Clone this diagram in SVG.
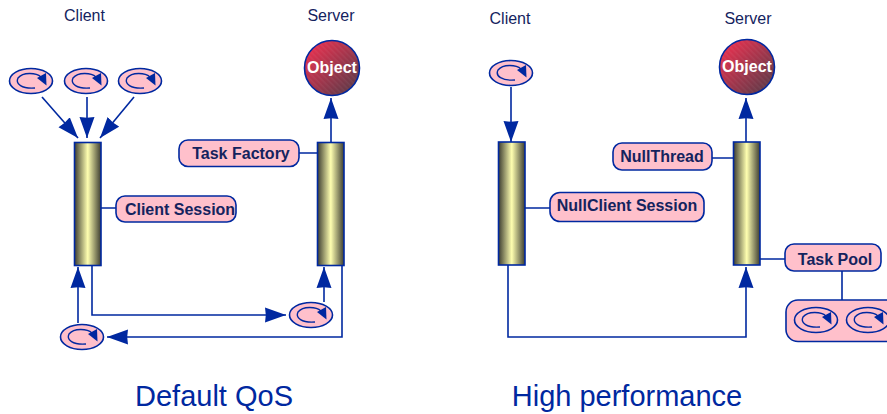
<svg xmlns="http://www.w3.org/2000/svg" width="887" height="414" viewBox="0 0 887 414">
<style>
text{font-family:"Liberation Sans",Arial,sans-serif;fill:#14235e}
.h{font-size:16px;text-anchor:middle}
.t{font-size:29px;text-anchor:middle;fill:#0028a0}
.b{font-size:16px;font-weight:bold;text-anchor:middle}
.box{fill:#ffc0cb;stroke:#0028a0;stroke-width:1.6}
.bar{fill:url(#cyl);stroke:#0028a0;stroke-width:1.6}
.c{fill:none;stroke:#0028a0;stroke-width:1.6}
.a{fill:none;stroke:#0028a0;stroke-width:1.6;marker-end:url(#ah)}
.o{fill:url(#sph);stroke:#0028a0;stroke-width:1.6}
.os{fill:url(#hatch)}
.ot{font-size:16px;font-weight:bold;text-anchor:middle;fill:#fff}
</style>
<defs>
<linearGradient id="cyl"><stop offset="0" stop-color="#3c3c30"/><stop offset=".5" stop-color="#ffffb0"/><stop offset="1" stop-color="#3c3c30"/></linearGradient>
<linearGradient id="sph" x1="0.100" y1="0.100" x2="0.900" y2="0.900"><stop offset="0" stop-color="#e8304f"/><stop offset="1" stop-color="#5f3a48"/></linearGradient>
<pattern id="hatch" width="4" height="4" patternUnits="userSpaceOnUse" patternTransform="rotate(45)"><rect width="4" height="1.500" fill="#fff" opacity=".05"/></pattern>
<marker id="ah" markerUnits="userSpaceOnUse" markerWidth="24" markerHeight="18" refX="21" refY="8" orient="auto"><path d="M0 0.500L21 8L0 15.500L0.800 8Z" fill="#0028a0"/></marker>
<g id="th"><ellipse rx="21.500" ry="12.500" class="box"/><path d="M10-4C5-8.500-8-9-13-3C-16 3-9 8 4 7" fill="none" stroke="#0028a0" stroke-width="1.400"/><path d="M15-8L15.500 4.500L6-3Z" fill="#0028a0"/></g>
</defs>
<g id="connectors">
<path class="a" d="M42 97L78 138"/>
<path class="a" d="M87 97V138"/>
<path class="a" d="M134 97L100 138"/>
<path class="c" d="M299 153H318M101 208H116"/>
<path class="a" d="M331 142V98"/>
<path class="a" d="M92 266V315H286"/>
<path class="a" d="M324 302V267"/>
<path class="a" d="M342 266V337H107"/>
<path class="a" d="M78 323V267"/>
<path class="a" d="M511 87V142"/>
<path class="c" d="M525 208H550M712 158H733M760 259H785M842 271V300"/>
<path class="a" d="M746 142V98"/>
<path class="a" d="M508 265V337H746V267"/>
</g>
<g id="labels">
<text class="h" x="84.500" y="21">Client</text>
<text class="h" x="331" y="21">Server</text>
<text class="h" x="510" y="24">Client</text>
<text class="h" x="748" y="24">Server</text>
<text class="t" x="214" y="406">Default QoS</text>
<text class="t" x="627" y="406">High performance</text>
</g>
<g id="client-threads-a"><use href="#th" x="31" y="81"/><use href="#th" x="86" y="81"/><use href="#th" x="140" y="81"/></g>
<g id="client-bar-a"><rect class="bar" x="74.500" y="142.500" width="26.500" height="123"/></g>
<g id="server-bar-a"><rect class="bar" x="317.500" y="142.500" width="26.500" height="123"/></g>
<g id="object-a"><circle class="o" cx="332" cy="68" r="27.500"/><circle class="os" cx="332" cy="68" r="26.500"/><text class="ot" x="332" y="73">Object</text></g>
<g id="task-factory"><rect class="box" x="179" y="140" width="120" height="26.500" rx="9"/><text class="b" x="241" y="159">Task Factory</text></g>
<g id="client-session"><rect class="box" x="116" y="196" width="120" height="26" rx="9"/><text class="b" x="180" y="215">Client Session</text></g>
<g id="thread-b"><use href="#th" x="311" y="315"/></g>
<g id="thread-c"><use href="#th" x="82" y="337"/></g>
<g id="client-thread-b"><use href="#th" x="511" y="73"/></g>
<g id="client-bar-b"><rect class="bar" x="498.500" y="142" width="26.500" height="123"/></g>
<g id="server-bar-b"><rect class="bar" x="733.500" y="142" width="26.500" height="123"/></g>
<g id="object-b"><circle class="o" cx="747" cy="67" r="27.500"/><circle class="os" cx="747" cy="67" r="26.500"/><text class="ot" x="747" y="72">Object</text></g>
<g id="null-thread"><rect class="box" x="613" y="143" width="99" height="27" rx="9"/><text class="b" x="662" y="162">NullThread</text></g>
<g id="null-client-session"><rect class="box" x="550" y="192.500" width="154" height="29" rx="10"/><text class="b" x="627" y="211">NullClient Session</text></g>
<g id="task-pool"><rect class="box" x="785" y="244" width="96" height="27" rx="9"/><text class="b" x="835" y="265">Task Pool</text></g>
<g id="pool"><rect class="box" x="786" y="300" width="120" height="41.500" rx="12"/><use href="#th" x="816" y="320"/><use href="#th" x="868" y="320"/></g>
</svg>
